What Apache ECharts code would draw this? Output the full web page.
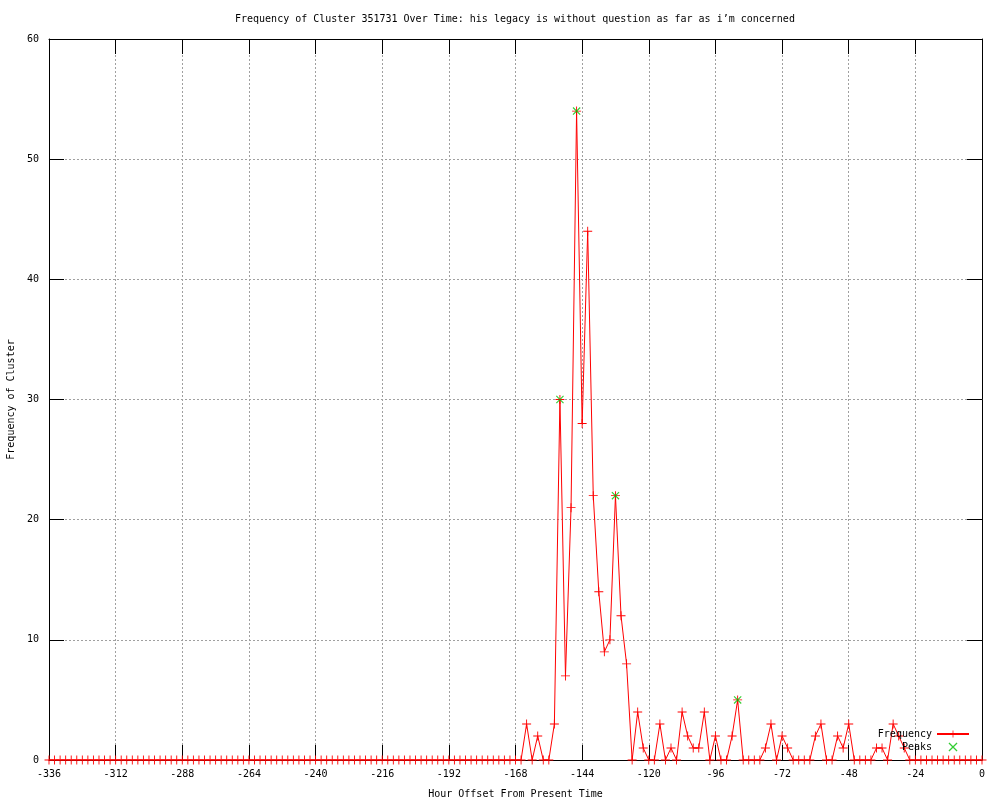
<!DOCTYPE html>
<html>
<head>
<meta charset="utf-8">
<script src="https://cdn.jsdelivr.net/npm/echarts@6/dist/echarts.min.js"></script>
<style>html,body{margin:0;padding:0;background:#fff;}#chart{width:1000px;height:800px;}</style>
</head>
<body>
<div id="chart"></div>
<script>
// Hour offsets: every 2 hours from -336 to 0
var hourStart = -336, hourStep = 2;
// Frequency values, one per 2-hour bin from -336 to 0
var frequencyValues = [
  0,0,0,0,0,0,0,0,0,0, 0,0,0,0,0,0,0,0,0,0,
  0,0,0,0,0,0,0,0,0,0, 0,0,0,0,0,0,0,0,0,0,
  0,0,0,0,0,0,0,0,0,0, 0,0,0,0,0,0,0,0,0,0,
  0,0,0,0,0,0,0,0,0,0, 0,0,0,0,0,0,0,0,0,0,
  0,0,0,0,0,0,
  3,0,2,0,0,3,30,7,21,54,28,44,22,14,9,10,22,12,8,0,
  4,1,0,0,3,0,1,0,4,2,1,1,4,0,2,0,0,2,5,0,
  0,0,0,1,3,0,2,1,0,0,0,0,2,3,0,0,2,1,3,0,
  0,0,0,1,1,0,3,2,1,0,
  0,0,0,0,0,0,0,0,0,0,0,0,0
];
var peakHours = [-152, -146, -132, -88];
var peakValues = [30, 54, 22, 5];
var xTicks = {min: -336, max: 0, interval: 24};
var yTicks = {min: 0, max: 60, interval: 10};

var freqData = frequencyValues.map(function (v, i) { return [hourStart + i * hourStep, v]; });
var peakData = peakHours.map(function (h, i) { return [h, peakValues[i]]; });

var FONT = 'DejaVu Sans Mono';
var FS = 10;
var plusPath = 'path://M0,4.5L10,4.5L10,5.5L0,5.5Z M4.5,0L5.5,0L5.5,10L4.5,10Z';
var xPath = 'path://M0,1L1,0L10,9L9,10Z M9,0L10,1L1,10L0,9Z';

var chart = echarts.init(document.getElementById('chart'), null, {renderer: 'canvas'});
var axisLineStyle = {show: true, onZero: false, lineStyle: {color: '#000', width: 1}};
var tickStyle = {show: true, inside: true, length: 15, lineStyle: {color: '#000'}};
var gridLine = {show: true, lineStyle: {color: '#a0a0a0', type: [2, 2], width: 1}};
chart.setOption({
  animation: false,
  backgroundColor: '#fff',
  title: {
    text: 'Frequency of Cluster 351731 Over Time: his legacy is without question as far as i\u2019m concerned',
    left: 235, top: 14, padding: 0,
    textStyle: {fontFamily: FONT, fontSize: FS, fontWeight: 'normal', color: '#000'}
  },
  legend: {
    orient: 'vertical', right: 30, top: 729, align: 'right', padding: 0,
    itemWidth: 32, itemHeight: 9, itemGap: 3,
    textStyle: {fontFamily: FONT, fontSize: FS, color: '#000'},
    data: ['Frequency', 'Peaks']
  },
  grid: {left: 49, right: 18, top: 39, bottom: 40, containLabel: false, outerBoundsMode: 'none'},
  xAxis: [{
    type: 'value', min: xTicks.min, max: xTicks.max, interval: xTicks.interval,
    position: 'bottom',
    name: 'Hour Offset From Present Time', nameLocation: 'middle', nameGap: 29,
    nameTextStyle: {fontFamily: FONT, fontSize: FS, color: '#000'},
    axisLine: axisLineStyle,
    axisTick: tickStyle,
    axisLabel: {fontFamily: FONT, fontSize: FS, color: '#000', margin: 9},
    splitLine: gridLine
  }, {
    type: 'value', min: xTicks.min, max: xTicks.max, interval: xTicks.interval,
    position: 'top',
    axisLine: axisLineStyle,
    axisTick: tickStyle,
    axisLabel: {show: false}, splitLine: {show: false}
  }],
  yAxis: [{
    type: 'value', min: yTicks.min, max: yTicks.max, interval: yTicks.interval,
    position: 'left',
    name: 'Frequency of Cluster', nameLocation: 'middle', nameGap: 30, nameRotate: 90,
    nameTextStyle: {fontFamily: FONT, fontSize: FS, color: '#000'},
    axisLine: axisLineStyle,
    axisTick: tickStyle,
    axisLabel: {fontFamily: FONT, fontSize: FS, color: '#000', margin: 10},
    splitLine: gridLine
  }, {
    type: 'value', min: yTicks.min, max: yTicks.max, interval: yTicks.interval,
    position: 'right',
    axisLine: axisLineStyle,
    axisTick: tickStyle,
    axisLabel: {show: false}, splitLine: {show: false}
  }],
  series: [{
    name: 'Frequency', type: 'line', data: freqData,
    xAxisIndex: 0, yAxisIndex: 0,
    symbol: plusPath, symbolSize: 9, showAllSymbol: true,
    lineStyle: {color: '#ff0000', width: 1},
    itemStyle: {color: '#ff0000', borderWidth: 0},
    z: 3
  }, {
    name: 'Peaks', type: 'scatter', data: peakData,
    xAxisIndex: 0, yAxisIndex: 0,
    symbol: xPath, symbolSize: 8,
    itemStyle: {color: '#00c000', borderWidth: 0},
    z: 4
  }]
});
</script>
</body>
</html>
